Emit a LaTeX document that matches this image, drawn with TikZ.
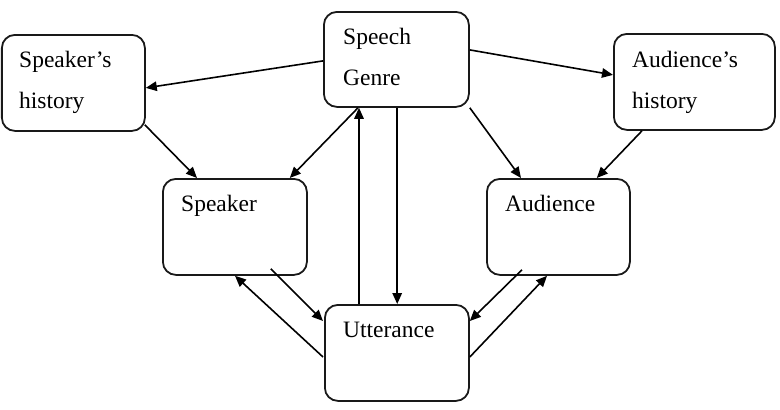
\documentclass[tikz,border=0pt]{standalone}
\usepackage{fontspec}
\setmainfont{Liberation Serif}
\usetikzlibrary{arrows.meta}
\begin{document}
\begin{tikzpicture}[x=1pt,y=1pt,
  box/.style={draw=black!90, line width=1.8pt, rounded corners=13pt, anchor=north west, inner sep=0pt},
  lbl/.style={anchor=base west, inner sep=0pt, font=\fontsize{23.5}{28}\selectfont},
  conn/.style={draw=black, line width=1.6pt, -{Triangle[length=11pt,width=9.5pt]}}]
\useasboundingbox (0,0) rectangle (780,-410);
% boxes
\node[box, minimum width=143, minimum height=96] (sh) at (1,-34) {};
\node[box, minimum width=145, minimum height=95] (sg) at (323,-11) {};
\node[box, minimum width=161, minimum height=96] (ah) at (613,-33) {};
\node[box, minimum width=144, minimum height=96] (sp) at (162,-178) {};
\node[box, minimum width=143, minimum height=96] (au) at (486,-178) {};
\node[box, minimum width=144, minimum height=96] (ut) at (324,-304) {};
% labels
\node[lbl] (t1) at (19,-67) {Speaker’s};
\node[lbl] (t2) at (19,-108) {history};
\node[lbl] (t3) at (343,-44) {Speech};
\node[lbl] (t4) at (343,-85) {Genre};
\node[lbl] (t5) at (632,-67) {Audience’s};
\node[lbl] (t6) at (632,-108) {history};
\node[lbl] (t7) at (181,-211) {Speaker};
\node[lbl] (t8) at (505,-211) {Audience};
\node[lbl] (t9) at (343,-337) {Utterance};
% connectors
\draw[conn] ([yshift=-1.5]sg.west) -- ([yshift=-5]sh.east);
\draw[conn] ([yshift=9.5]sg.east) -- ([yshift=7]ah.west);
\draw[conn] ([xshift=-1,yshift=7]sh.south east) -- ([xshift=35]sp.north west);
\draw[conn] ([xshift=35]sg.south west) -- ([xshift=-18]sp.north east);
\draw[conn] (sg.south east) -- ([xshift=35]au.north west);
\draw[conn] ([xshift=29]ah.south west) -- ([xshift=-34]au.north east);
\draw[conn] ([xshift=35]ut.north west) -- ([xshift=36]sg.south west);
\draw[conn] ([xshift=0.8]sg.south) -- ([xshift=0.8]sg.south |- ut.north);
\draw[conn] ([xshift=-37,yshift=7]sp.south east) -- ([xshift=-1,yshift=-17]ut.north west);
\draw[conn] ([xshift=-1,yshift=-53]ut.north west) -- ([xshift=73]sp.south west);
\draw[conn] ([xshift=36,yshift=6]au.south west) -- ([yshift=-17]ut.north east);
\draw[conn] ([yshift=-53]ut.north east) -- ([xshift=61]au.south west);
\end{tikzpicture}
\end{document}
